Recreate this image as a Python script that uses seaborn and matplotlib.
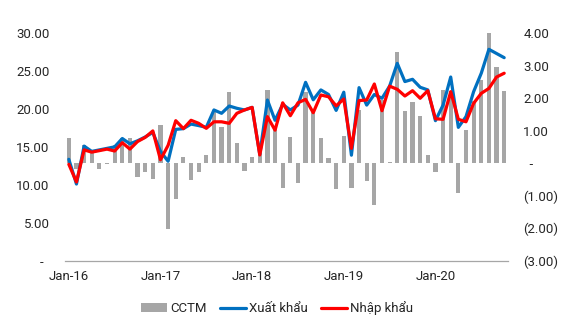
import matplotlib
matplotlib.use("Agg")
import matplotlib.pyplot as plt
import seaborn as sns
import pandas as pd
import numpy as np
from matplotlib.patches import Patch
from matplotlib.lines import Line2D

# ---- data (Jan-2016 .. Oct-2020, monthly) ----
months = pd.date_range("2016-01-01", periods=58, freq="MS").strftime("%b-%y").tolist()

cctm = [0.77, -0.18, 0.56, 0.38, -0.18, -0.02, 0.56, 0.77, 0.77, -0.43, -0.26, -0.49,
        1.17, -2.02, -1.10, 0.18, -0.53, -0.28, 0.26, 1.63, 1.10, 2.20, 0.61, -0.23,
        0.18, 0.30, 2.25, 1.15, -0.77, 0.80, -0.61, 2.20, 1.63, 0.77, 0.15, -0.80,
        0.82, -0.77, 1.63, -0.56, -1.28, 1.94, 0.03, 3.42, 1.61, 1.89, 1.45, 0.26,
        -0.28, 2.25, 2.22, -0.92, 1.02, 1.90, 2.55, 4.00, 2.96, 2.22]

xuat_khau = [13.36, 10.1, 15.1, 14.4, 14.6, 14.8, 15.0, 16.1, 15.4, 15.8, 16.3, 16.9,
             14.4, 13.1, 17.3, 17.4, 18.0, 17.8, 17.57, 19.86, 19.42, 20.38, 20.08, 19.86,
             20.2, 14.0, 21.17, 18.5, 20.6, 19.86, 20.5, 23.5, 21.2, 22.5, 21.9, 19.8,
             22.2, 13.9, 22.8, 20.5, 21.9, 21.4, 23.0, 26.0, 23.6, 23.9, 22.85, 22.5,
             18.45, 20.5, 24.2, 17.57, 18.98, 22.27, 24.7, 27.85, 27.3, 26.75]

nhap_khau = [12.7, 10.37, 14.6, 14.3, 14.5, 14.7, 14.45, 15.55, 14.7, 15.7, 16.25, 17.1,
             13.3, 15.2, 18.45, 17.4, 18.5, 18.1, 17.44, 18.3, 18.3, 18.1, 19.42, 19.86,
             20.2, 13.93, 18.98, 17.2, 20.8, 19.1, 20.8, 21.26, 19.5, 21.83, 21.6, 20.4,
             21.3, 14.8, 21.1, 21.17, 23.28, 19.76, 23.0, 22.58, 21.7, 22.4, 21.4, 22.4,
             18.7, 18.63, 22.27, 18.63, 18.3, 20.74, 22.05, 22.7, 24.2, 24.7]

xtick_labels = ["Jan-16", "Jan-17", "Jan-18", "Jan-19", "Jan-20"]
left_ticks = [0, 5, 10, 15, 20, 25, 30]
left_labels = ["-  ", "5.00", "10.00", "15.00", "20.00", "25.00", "30.00"]
right_ticks = [-3, -2, -1, 0, 1, 2, 3, 4]
right_labels = ["(3.00)", "(2.00)", "(1.00)", "  -", "1.00", "2.00", "3.00", "4.00"]

# ---- styling ----
sns.set_style("white")
plt.rcParams["font.family"] = ["Roboto", "DejaVu Sans"]
TXT = "#262626"
BAR = "#A6A6A6"
BLUE = "#0070C0"
RED = "#FF0000"

fig = plt.figure(figsize=(5.65, 3.28), dpi=100)
ax = fig.add_axes([65 / 565, 1 - 260.7 / 328, (508 - 65) / 565, (260.7 - 33) / 328])
ax2 = ax.twinx()

idx = np.arange(len(months))
df = pd.DataFrame({"i": idx, "cctm": cctm, "xk": xuat_khau, "nk": nhap_khau})

sns.barplot(data=df, x="i", y="cctm", ax=ax2, color=BAR, saturation=1,
            width=0.55, errorbar=None, linewidth=0)
sns.lineplot(data=df, x="i", y="xk", ax=ax, color=BLUE, linewidth=2.3)
sns.lineplot(data=df, x="i", y="nk", ax=ax, color=RED, linewidth=2.3)

ax.set_zorder(ax2.get_zorder() + 1)
ax.patch.set_visible(False)

ax.set_xlim(-0.5, len(months) - 0.5)
ax2.set_xlim(-0.5, len(months) - 0.5)
ax.set_ylim(0, 30)
ax2.set_ylim(-3, 4)

ax.set_yticks(left_ticks)
ax.set_yticklabels(left_labels)
ax2.set_yticks(right_ticks)
ax2.set_yticklabels(right_labels)

ax.set_xticks([0, 12, 24, 36, 48])
ax.set_xticklabels(xtick_labels)
ax2.set_xticks([0, 12, 24, 36, 48])
ax2.set_xticklabels(xtick_labels)

for a in (ax, ax2):
    a.set_xlabel("")
    a.set_ylabel("")
    for s in a.spines.values():
        s.set_visible(False)
    a.tick_params(length=0, labelsize=9.5, colors=TXT)
    a.grid(False)
ax.spines["bottom"].set_visible(True)
ax.spines["bottom"].set_color("#A6A6A6")
ax.spines["bottom"].set_linewidth(0.9)
ax.tick_params(axis="y", pad=11)
ax2.tick_params(axis="y", pad=11)
ax.tick_params(axis="x", pad=7)
ax2.tick_params(axis="x", labelbottom=False)

handles = [Patch(facecolor=BAR, edgecolor="none"),
           Line2D([], [], color=BLUE, linewidth=2.3),
           Line2D([], [], color=RED, linewidth=2.3)]
fig.legend(handles, ["CCTM", "Xuất khẩu", "Nhập khẩu"], loc="center",
           bbox_to_anchor=(0.49, 0.06), ncol=3, frameon=False,
           fontsize=9.5, handlelength=2.0, handleheight=0.6, handletextpad=0.2,
           columnspacing=1.0, labelcolor=TXT)

fig.savefig("out.png", dpi=100)
